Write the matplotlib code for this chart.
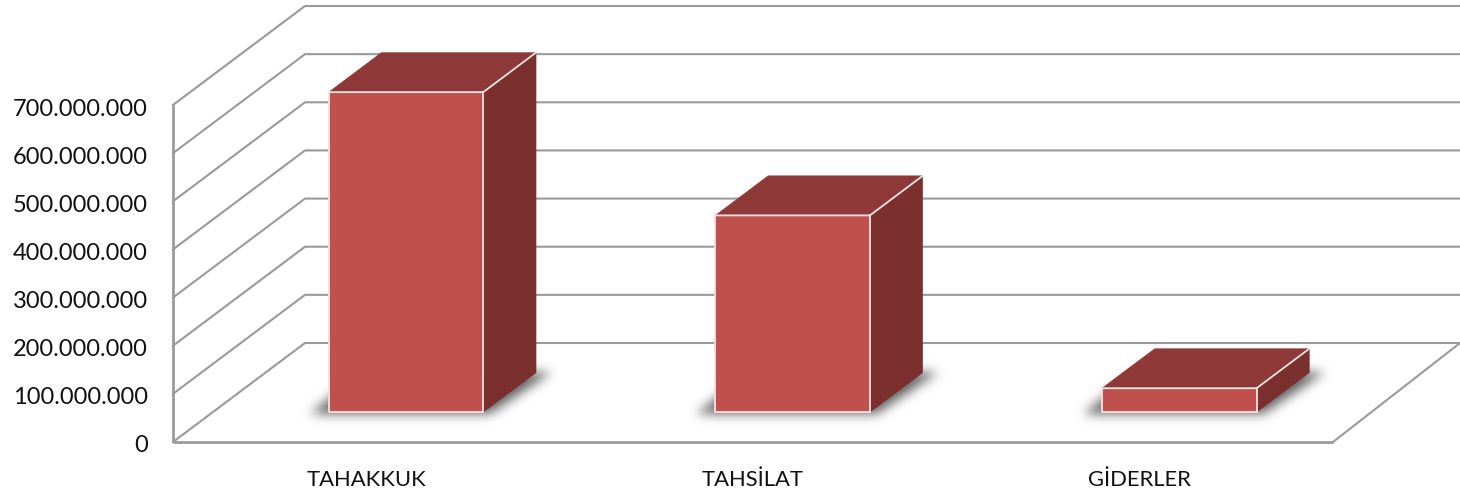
import numpy as np
import matplotlib
matplotlib.use("Agg")
import matplotlib.pyplot as plt
from matplotlib.patches import Polygon
from matplotlib.path import Path
from matplotlib.ticker import FuncFormatter
from matplotlib.transforms import Affine2D

# =========================================================
# DATA
# =========================================================
categories = ["TAHAKKUK", "TAHSİLAT", "GİDERLER"]
values = [665000000, 409000000, 50000000]
y_ticks = [0, 100000000, 200000000, 300000000, 400000000, 500000000, 600000000, 700000000]

# =========================================================
# STYLE
# =========================================================
WALL_DX, WALL_DY = 132, 99    # depth of the chart box in pixels
BAR_INSET = 0.30              # bar front, as share of the depth
BAR_DEPTH = 0.40              # bar depth, as share of the depth
BAR_WIDTH = 0.40
GRID = "#9A9A9A"
FRONT = "#C0504D"
TOP = "#8E3937"
SIDE = "#7B302E"
EDGE = "#F2E4E3"
SHADOW_SIGMA = 5.5

plt.rcParams['font.family'] = ['Lato', 'DejaVu Sans']

fig = plt.figure(figsize=(14.6, 4.92), dpi=100)
ax = fig.add_axes([173 / 1460, (492 - 442) / 492, 1160 / 1460, 337 / 492])
ax.set_xlim(0, len(categories))
ax.set_ylim(0, 700000000)
for s in ax.spines.values():
    s.set_visible(False)


def depth(frac):
    # shifts data coordinates back into the oblique depth
    return ax.transData + Affine2D().translate(WALL_DX * frac, WALL_DY * frac)


def blur(mask, sigma):
    # separable gaussian blur, one row/column at a time
    r = int(sigma * 3)
    kernel = np.exp(-0.5 * (np.arange(-r, r + 1) / sigma) ** 2)
    kernel = kernel / kernel.sum()
    out = np.apply_along_axis(lambda m: np.convolve(m, kernel, mode="same"), 0, mask)
    return np.apply_along_axis(lambda m: np.convolve(m, kernel, mode="same"), 1, out)


# Grid, walls and floor
x_end = len(categories)
for t in y_ticks:
    p0 = ax.transData.transform((0, t))
    p1 = depth(1).transform((0, t))
    p2 = ax.transData.transform((x_end, t)) + [WALL_DX - 5, WALL_DY]
    ax.plot([p0[0], p1[0], p2[0]], [p0[1], p1[1], p2[1]], color=GRID, lw=1.5,
            transform=None, clip_on=False, solid_joinstyle="miter", zorder=1)

ax.plot([0, 0], [0, y_ticks[-1]], color=GRID, lw=2, clip_on=False, solid_capstyle="butt", zorder=1)
ax.plot([0, x_end], [0, 0], color=GRID, lw=2, clip_on=False, solid_capstyle="butt", zorder=1)
p0 = ax.transData.transform((x_end, 0))
p1 = p0 + [WALL_DX - 5, WALL_DY]
ax.plot([p0[0], p1[0]], [p0[1], p1[1]], color=GRID, lw=1.5, transform=None, clip_on=False, zorder=1)

# Floor shadows, blurred into one image over the axes area
x0_px, y0_px = ax.transData.transform((0, 0))
x1_px, y1_px = ax.transData.transform((x_end, y_ticks[-1]))
w_px, h_px = int(round(x1_px - x0_px)), int(round(y1_px - y0_px))
gx, gy = np.meshgrid(np.arange(w_px) + x0_px + 0.5, np.arange(h_px) + y0_px + 0.5)
grid_pts = np.column_stack([gx.ravel(), gy.ravel()])
mask = np.zeros((h_px, w_px))

for i, v in enumerate(values):
    xl = i + 0.5 - BAR_WIDTH / 2
    xr = i + 0.5 + BAR_WIDTH / 2
    front = depth(BAR_INSET)
    back = depth(BAR_INSET + BAR_DEPTH)
    a = front.transform((xl, 0)) + [-19, -2]
    b = front.transform((xr, 0)) + [6, -2]
    c = back.transform((xr, 0)) + [16, 1]
    d = back.transform((xl, 0)) + [-19, 1]
    inside = Path([a, b, c, d]).contains_points(grid_pts).reshape(h_px, w_px)
    mask[inside] = 1.0

shadow = np.zeros((h_px, w_px, 4))
shadow[..., :3] = 0.32
shadow[..., 3] = blur(mask, SHADOW_SIGMA) * 0.9
ax.imshow(shadow, extent=(0, x_end, 0, y_ticks[-1]), origin="lower", aspect="auto",
          interpolation="nearest", zorder=3)
ax.set_xlim(0, x_end)
ax.set_ylim(0, y_ticks[-1])

# Bars
for i, v in enumerate(values):
    xl = i + 0.5 - BAR_WIDTH / 2
    xr = i + 0.5 + BAR_WIDTH / 2
    front = depth(BAR_INSET)
    back = depth(BAR_INSET + BAR_DEPTH)

    fl = front.transform((xl, v))
    fr = front.transform((xr, v))
    br = back.transform((xr, v))
    bl = back.transform((xl, v))
    f0l = front.transform((xl, 0))
    f0r = front.transform((xr, 0))
    b0r = back.transform((xr, 0))

    # faces, then the light outline on the edges that show one
    ax.add_patch(Polygon([fl, fr, br, bl], closed=True, facecolor=TOP, edgecolor=TOP, lw=0.3,
                         transform=None, clip_on=False, zorder=4))
    ax.add_patch(Polygon([fr, f0r, b0r, br], closed=True, facecolor=SIDE, edgecolor=SIDE, lw=0.3,
                         transform=None, clip_on=False, zorder=4))
    ax.add_patch(Polygon([f0l, f0r, fr, fl], closed=True, facecolor=FRONT, edgecolor=FRONT, lw=0.3,
                         transform=None, clip_on=False, zorder=4))
    ax.plot([fl[0], fr[0], br[0]], [fl[1], fr[1], br[1]], color=EDGE, lw=1.3,
            transform=None, clip_on=False, zorder=4.2)
    ax.plot([fr[0], f0r[0]], [fr[1], f0r[1]], color=EDGE, lw=1.3,
            transform=None, clip_on=False, zorder=4.2)
    ax.plot([fl[0], f0l[0], f0r[0]], [fl[1], f0l[1], f0r[1]], color=EDGE, lw=1.3,
            transform=None, clip_on=False, zorder=4.2)

# Axis labels
ax.set_yticks(y_ticks)
ax.yaxis.set_major_formatter(FuncFormatter(lambda v, pos: f"{int(v):,}".replace(",", ".")))
ax.set_xticks([i + 0.5 for i in range(len(categories))])
ax.set_xticklabels(categories)
ax.tick_params(axis="y", length=0, pad=18, labelsize=17, labelcolor="#111111")
ax.tick_params(axis="x", length=0, pad=20, labelsize=15.8, labelcolor="#111111")
for label in ax.get_yticklabels():
    label.set_transform(label.get_transform() + Affine2D().translate(0, -2))

fig.savefig("out.png", dpi=100)
plt.close(fig)
